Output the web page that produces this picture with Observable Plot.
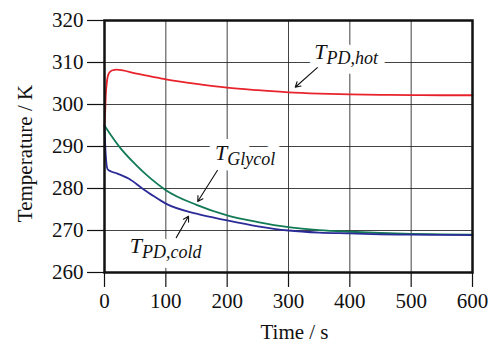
<!DOCTYPE html>
<html>
<head>
<meta charset="utf-8">
<script src="https://cdn.jsdelivr.net/npm/d3@7"></script>
<script src="https://cdn.jsdelivr.net/npm/@observablehq/plot@0.6"></script>
<style>
  html, body { margin: 0; padding: 0; background: #fff; }
  #chart svg { display: block; }
</style>
</head>
<body>
<div id="chart"></div>
<script>
// ---- data ----
const xTicks = [0, 100, 200, 300, 400, 500, 600];
const yTicks = [260, 270, 280, 290, 300, 310, 320];

const hotTime = [0, 1, 2, 4, 7, 12, 20, 30, 50, 75, 100, 150, 200, 250, 300, 350, 400, 450, 500, 550, 600];
const hotTemp = [295, 298, 302, 305.5, 307.4, 308.1, 308.3, 308.1, 307.4, 306.7, 306.0, 304.9, 304.0, 303.4, 302.9, 302.6, 302.4, 302.3, 302.25, 302.2, 302.2];

const glyTime = [0, 10, 25, 50, 75, 100, 150, 200, 250, 300, 350, 400, 450, 500, 550, 600];
const glyTemp = [295, 292.8, 289.8, 285.8, 282.4, 279.6, 276.1, 273.6, 272.0, 270.8, 270.1, 269.7, 269.4, 269.2, 269.1, 269.0];

const coldTime = [0, 2, 5, 10, 20, 40, 60, 80, 100, 150, 200, 250, 300, 350, 400, 450, 500, 550, 600];
const coldTemp = [295, 288, 284.6, 284.1, 283.6, 282.3, 280.2, 278.2, 276.4, 274.0, 272.4, 271.0, 270.0, 269.5, 269.3, 269.1, 269.0, 268.95, 268.9];

const seriesNames = ["hot", "glycol", "cold"];
const seriesColors = ["#e8232b", "#127a55", "#2b2b98"];

// annotation labels: main letter, subscript, anchor (time, temp)
const labelMain = ["T", "T", "T"];
const labelSub = ["PD,hot", "Glycol", "PD,cold"];
const labelX = [362, 200, 61];
const labelY = [312.4, 288.4, 266.3];

// annotation arrows (from -> to), in data units
const arrowX1 = [347, 184, 117];
const arrowY1 = [308.8, 284.3, 268.3];
const arrowX2 = [311, 152, 137];
const arrowY2 = [304.1, 276.9, 273.4];

// ---- build tables ----
const toRows = (t, v, s) => t.map((d, i) => ({time: d, temp: v[i], series: s}));
const rows = [
  ...toRows(hotTime, hotTemp, "hot"),
  ...toRows(glyTime, glyTemp, "glycol"),
  ...toRows(coldTime, coldTemp, "cold")
];
const labels = labelMain.map((m, i) => ({main: m, sub: labelSub[i], x: labelX[i], y: labelY[i]}));
const arrows = arrowX1.map((d, i) => ({x1: d, y1: arrowY1[i], x2: arrowX2[i], y2: arrowY2[i]}));

const font = "'Liberation Serif', 'Times New Roman', serif";

const chart = Plot.plot({
  width: 492,
  height: 351,
  marginLeft: 104,
  marginRight: 20,
  marginTop: 20,
  marginBottom: 79,
  style: {fontFamily: font, fontSize: "21px", background: "#fff", color: "#111"},
  x: {domain: [0, 600], label: null},
  y: {domain: [260, 320], label: null},
  color: {domain: seriesNames, range: seriesColors},
  marks: [
    Plot.gridX(xTicks, {stroke: "#222", strokeOpacity: 0.85, strokeWidth: 1}),
    Plot.gridY(yTicks, {stroke: "#222", strokeOpacity: 0.85, strokeWidth: 1}),
    // label halos (white box effect)
    Plot.text(labels, {x: "x", y: "y", text: "main", textAnchor: "end", fontStyle: "italic", fontSize: 22,
      stroke: "white", strokeWidth: 14, fill: "white"}),
    Plot.text(labels, {x: "x", y: "y", text: "sub", textAnchor: "start", fontStyle: "italic", fontSize: 18,
      stroke: "white", strokeWidth: 14, fill: "white", dy: 6}),
    Plot.line(rows, {x: "time", y: "temp", z: "series", stroke: "series", strokeWidth: 1.8, curve: "monotone-x"}),
    Plot.text(labels, {x: "x", y: "y", text: "main", textAnchor: "end", fontStyle: "italic", fontSize: 22, fill: "#111"}),
    Plot.text(labels, {x: "x", y: "y", text: "sub", textAnchor: "start", fontStyle: "italic", fontSize: 18, fill: "#111", dy: 6}),
    Plot.arrow(arrows, {x1: "x1", y1: "y1", x2: "x2", y2: "y2", stroke: "#111", strokeWidth: 1.1, headLength: 8}),
    Plot.frame({stroke: "#111", strokeWidth: 2.5}),
    Plot.axisX(xTicks, {tickSize: 15, tickPadding: 6, stroke: "#111", strokeWidth: 1.2, label: null}),
    Plot.axisY(yTicks, {tickSize: 17, tickPadding: 4, stroke: "#111", strokeWidth: 1.2, label: null}),
    Plot.text(["Time / s"], {frameAnchor: "bottom", textAnchor: "middle", dy: 66, dx: 6, fontSize: 21, fill: "#111"}),
    Plot.text(["Temperature / K"], {frameAnchor: "left", textAnchor: "middle", rotate: -90, dx: -79, dy: 7, fontSize: 21, fill: "#111"})
  ]
});
document.getElementById("chart").appendChild(chart);
</script>
</body>
</html>
